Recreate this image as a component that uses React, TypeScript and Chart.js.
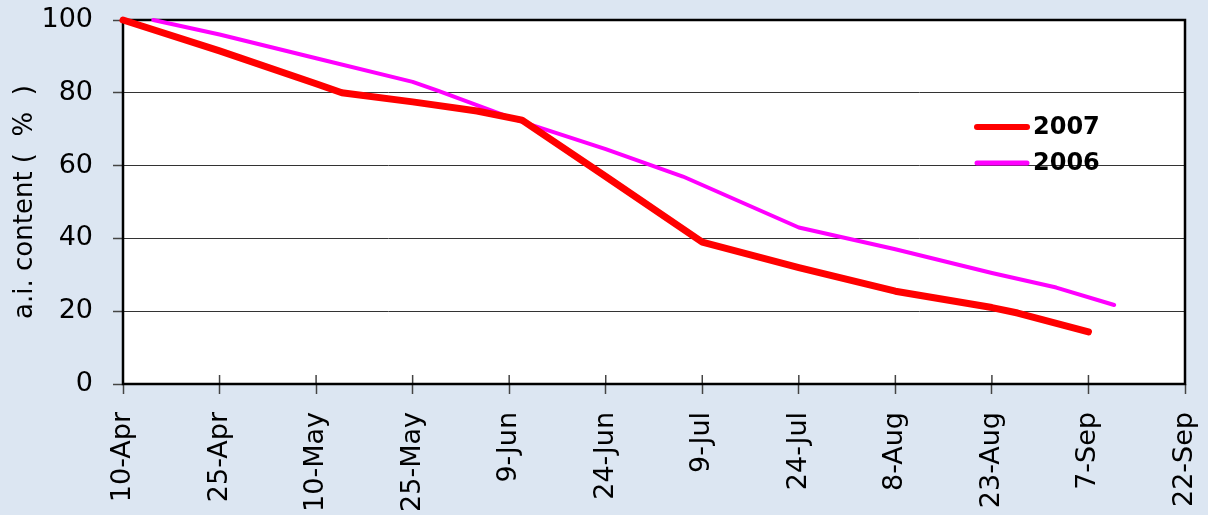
import React, { useEffect, useRef } from "react";
import { Chart, registerables } from "chart.js";

Chart.register(...registerables);

// Tick labels every 15 days starting 10-Apr (day 0)
const dateLabels = ["10-Apr", "25-Apr", "10-May", "25-May", "9-Jun", "24-Jun", "9-Jul", "24-Jul", "8-Aug", "23-Aug", "7-Sep", "22-Sep"];
const tickStepDays = 15;

// Series: day offset from 10-Apr and a.i. content (%)
const days2007 = [0, 15, 30, 34, 45, 55, 62, 75, 90, 105, 120, 135, 139, 150];
const values2007 = [100, 91.5, 82.5, 80, 77.5, 75, 72.5, 57, 39, 32, 25.5, 21, 19.5, 14.3];

const days2006 = [4.7, 15, 30, 45, 49, 62, 75, 87, 105, 120, 135, 145, 154];
const values2006 = [100, 96, 89.5, 83, 80.5, 72, 64.5, 57, 43, 37, 30.5, 26.5, 21.7];

const seriesNames = ["2007", "2006"];
const seriesColors = ["#ff0000", "#ff00ff"];

const FONT = "'DejaVu Sans', Verdana, sans-serif";

export default function App() {
  const canvasRef = useRef<HTMLCanvasElement | null>(null);

  useEffect(() => {
    document.body.style.margin = "0";
    const canvas = canvasRef.current;
    if (!canvas) return;

    const chartPlugin = {
      id: "decor",
      beforeDraw(chart: any) {
        const { ctx, chartArea } = chart;
        ctx.save();
        ctx.fillStyle = "#ffffff";
        ctx.fillRect(chartArea.left, chartArea.top, chartArea.right - chartArea.left, chartArea.bottom - chartArea.top);
        ctx.restore();
      },
      beforeDatasetsDraw(chart: any) {
        const { ctx, chartArea, scales } = chart;
        ctx.save();
        // inner part of x tick marks
        ctx.strokeStyle = "#444";
        ctx.lineWidth = 1.5;
        scales.x.ticks.forEach((t: any) => {
          const px = scales.x.getPixelForValue(t.value);
          ctx.beginPath();
          ctx.moveTo(px, chartArea.bottom - 9);
          ctx.lineTo(px, chartArea.bottom);
          ctx.stroke();
        });
        // frame
        ctx.strokeStyle = "#000";
        ctx.lineWidth = 2.5;
        ctx.strokeRect(chartArea.left, chartArea.top, chartArea.right - chartArea.left, chartArea.bottom - chartArea.top);
        ctx.restore();
      },
      afterDraw(chart: any) {
        const { ctx } = chart;
        ctx.save();
        const items = [
          { y: 127, w: 6 },
          { y: 163, w: 5 },
        ];
        items.forEach((it, i) => {
          ctx.strokeStyle = seriesColors[i];
          ctx.lineWidth = it.w;
          ctx.lineCap = "round";
          ctx.beginPath();
          ctx.moveTo(977, it.y);
          ctx.lineTo(1027, it.y);
          ctx.stroke();
          ctx.fillStyle = "#000";
          ctx.font = `bold 24px ${FONT}`;
          ctx.textBaseline = "middle";
          ctx.textAlign = "left";
          ctx.fillText(seriesNames[i], 1033, it.y + 1);
        });
        ctx.restore();
      },
    };

    const chart = new Chart(canvas, {
      type: "line",
      data: {
        datasets: [
          {
            label: seriesNames[0],
            data: days2007.map((d, i) => ({ x: d, y: values2007[i] })),
            borderColor: seriesColors[0],
            borderWidth: 7,
            pointRadius: 0,
            tension: 0,
            borderCapStyle: "round",
            borderJoinStyle: "round",
            clip: false,
          },
          {
            label: seriesNames[1],
            data: days2006.map((d, i) => ({ x: d, y: values2006[i] })),
            borderColor: seriesColors[1],
            borderWidth: 4,
            pointRadius: 0,
            tension: 0,
            borderCapStyle: "round",
            borderJoinStyle: "round",
            clip: false,
          },
        ],
      },
      plugins: [chartPlugin],
      options: {
        animation: false,
        responsive: false,
        devicePixelRatio: 1,
        layout: { padding: { top: 20, right: 23, left: 0, bottom: 0 } },
        plugins: {
          legend: { display: false },
          tooltip: { enabled: false },
        },
        scales: {
          x: {
            type: "linear",
            min: 0,
            max: tickStepDays * (dateLabels.length - 1),
            afterBuildTicks: (scale: any) => {
              scale.ticks = dateLabels.map((_, i) => ({ value: i * tickStepDays }));
            },
            afterFit: (scale: any) => {
              scale.height = 131;
              scale.paddingLeft = 0;
              scale.paddingRight = 0;
              scale.paddingTop = 0;
              scale.paddingBottom = 0;
            },
            ticks: {
              autoSkip: false,
              minRotation: 90,
              maxRotation: 90,
              padding: 18,
              color: "#000",
              font: { family: FONT, size: 27 },
              callback: (v: any) => dateLabels[Math.round(Number(v) / tickStepDays)] ?? "",
            },
            grid: {
              drawOnChartArea: false,
              drawTicks: true,
              tickLength: 10,
              tickColor: "#444",
              tickWidth: 1.5,
            },
            border: { display: false },
          },
          y: {
            min: 0,
            max: 100,
            afterFit: (scale: any) => {
              scale.width = 123;
              scale.paddingLeft = 0;
              scale.paddingRight = 0;
              scale.paddingTop = 0;
              scale.paddingBottom = 0;
            },
            ticks: {
              stepSize: 20,
              padding: 20,
              color: "#000",
              font: { family: FONT, size: 27 },
            },
            grid: {
              color: (c: any) => (c.tick && (c.tick.value === 0 || c.tick.value === 100) ? "rgba(0,0,0,0)" : "#333"),
              lineWidth: 1,
              borderDash: [4, 2, 1, 2],
              drawTicks: true,
              tickLength: 10,
              tickColor: "#444",
              tickWidth: 1.5,
              tickBorderDash: [],
            },
            border: { display: false },
            title: {
              display: true,
              text: "a.i. content (  %  )",
              color: "#000",
              font: { family: FONT, size: 26 },
              padding: { top: 10, bottom: 0 },
            },
          },
        },
      },
    } as any);

    return () => {
      chart.destroy();
    };
  }, []);

  return (
    <div style={{ width: 1208, height: 515, background: "#dce6f2" }}>
      <canvas ref={canvasRef} width={1208} height={515} style={{ display: "block" }} />
    </div>
  );
}
